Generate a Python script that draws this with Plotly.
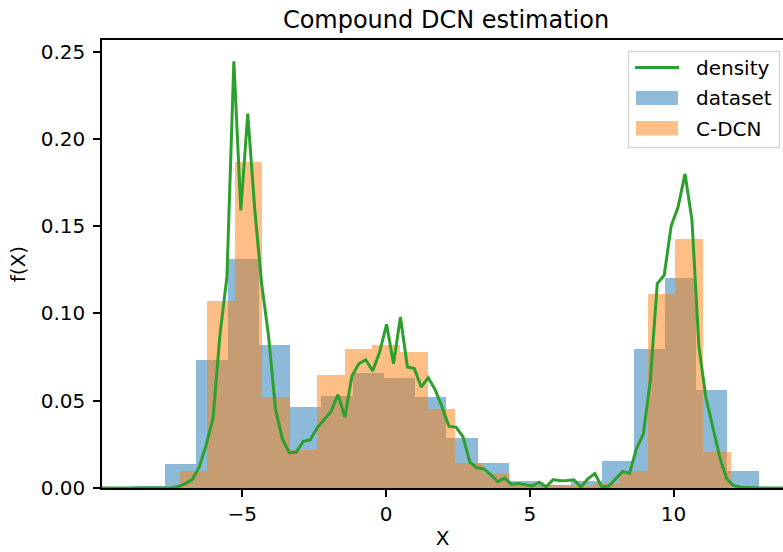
import numpy as np
import plotly.graph_objects as go

# ---- histogram of the raw dataset (20 equal bins, density-normalised) ----
dataset_lo, dataset_hi, dataset_nbins = -8.77, 12.96, 20
dataset_heights = [0.0014, 0.0135, 0.0735, 0.1315, 0.0817, 0.0467, 0.0530, 0.0659,
                   0.0632, 0.0521, 0.0286, 0.0145, 0.0040, 0.0020, 0.0043, 0.0152,
                   0.0799, 0.1204, 0.0560, 0.0097]

# ---- histogram of C-DCN samples (20 equal bins, density-normalised) ----
cdcn_lo, cdcn_hi, cdcn_nbins = -7.183, 11.983, 20
cdcn_heights = [0.0100, 0.1070, 0.1869, 0.0521, 0.0219, 0.0645, 0.0799, 0.0821,
                0.0779, 0.0454, 0.0142, 0.0080, 0.0012, 0.0020, 0.0010, 0.0028,
                0.0100, 0.1114, 0.1428, 0.0206]

# ---- estimated density evaluated on a 100-point grid ----
grid_lo, grid_hi, grid_n = -9.88, 14.02, 100
density_values = [
    0, 0, 0, 0, 0, 0, 0, 0, 0, 0,
    0.0002, 0.0008, 0.0025, 0.0048, 0.0119, 0.0244, 0.0400, 0.0880, 0.1210, 0.2445,
    0.1590, 0.2145, 0.1600, 0.1170, 0.0870, 0.0450, 0.0280, 0.0202, 0.0206, 0.0267,
    0.0275, 0.0345, 0.0390, 0.0438, 0.0535, 0.0406, 0.0640, 0.0712, 0.0735, 0.0670,
    0.0779, 0.0938, 0.0712, 0.0980, 0.0693, 0.0684, 0.0578, 0.0632, 0.0563, 0.0464,
    0.0353, 0.0349, 0.0295, 0.0148, 0.0116, 0.0110, 0.0077, 0.0036, 0.0057, 0.0020,
    0.0026, 0.0020, 0.0012, 0.0033, 0.0007, 0.0048, 0.0041, 0.0043, 0.0047, 0.0005,
    0.0053, 0.0083, 0.0007, 0.0010, 0.0052, 0.0095, 0.0084, 0.0225, 0.0310, 0.0617,
    0.1171, 0.1219, 0.1500, 0.1610, 0.1800, 0.1535, 0.0810, 0.0520, 0.0350, 0.0177,
    0.0053, 0.0014, 0.0005, 0.0002, 0, 0, 0, 0, 0, 0,
]

x_tick_values = [-5, 0, 5, 10]
x_tick_labels = ["\u22125", "0", "5", "10"]
y_tick_values = [0.00, 0.05, 0.10, 0.15, 0.20, 0.25]

BLUE = "#1f77b4"
ORANGE = "#ff7f0e"
GREEN = "#2ca02c"
FONT = "DejaVu Sans"
FS = 20


def bar_geometry(lo, hi, n):
    edges = np.linspace(lo, hi, n + 1)
    return (edges[:-1] + edges[1:]) / 2, np.diff(edges)


ds_centers, ds_widths = bar_geometry(dataset_lo, dataset_hi, dataset_nbins)
cd_centers, cd_widths = bar_geometry(cdcn_lo, cdcn_hi, cdcn_nbins)
grid_x = np.linspace(grid_lo, grid_hi, grid_n)

fig = go.Figure()
fig.add_trace(go.Bar(x=ds_centers, y=dataset_heights, width=ds_widths,
                     marker=dict(color=BLUE, line=dict(width=0)), opacity=0.5,
                     name="dataset", showlegend=False))
fig.add_trace(go.Bar(x=cd_centers, y=cdcn_heights, width=cd_widths,
                     marker=dict(color=ORANGE, line=dict(width=0)), opacity=0.5,
                     name="C-DCN", showlegend=False))
fig.add_trace(go.Scatter(x=grid_x, y=density_values, mode="lines",
                         line=dict(color=GREEN, width=3),
                         name="density", showlegend=False))

W, H = 783, 552
ML, MR, MT, MB = 102, 0, 40, 64
pw, ph = W - ML - MR, H - MT - MB
X_PER_PX = 1 / 28.75  # horizontal data units per pixel


def px(xp):
    return (xp - ML) / pw


def py(yp):
    return (H - MB - yp) / ph


# legend drawn as a framed box in the upper right corner
shapes = [
    dict(type="rect", xref="paper", yref="paper", layer="above",
         x0=px(628.5), x1=px(779.5), y0=py(147.5), y1=py(51.5),
         line=dict(color="#d6d6d6", width=1.3), fillcolor="rgba(255,255,255,0.8)"),
    dict(type="line", xref="paper", yref="paper", layer="above",
         x0=px(635), x1=px(679), y0=py(67.5), y1=py(67.5),
         line=dict(color=GREEN, width=3)),
    dict(type="rect", xref="paper", yref="paper", layer="above",
         x0=px(636), x1=px(678), y0=py(105), y1=py(91),
         line=dict(width=0), fillcolor="rgba(31,119,180,0.5)"),
    dict(type="rect", xref="paper", yref="paper", layer="above",
         x0=px(636), x1=px(678), y0=py(135.5), y1=py(121),
         line=dict(width=0), fillcolor="rgba(255,127,14,0.5)"),
]
annotations = [
    dict(text=t, xref="paper", yref="paper", x=px(694), y=py(yc),
         xanchor="left", yanchor="middle", showarrow=False,
         font=dict(family=FONT, size=FS, color="black"))
    for t, yc in [("density", 67.5), ("dataset", 98), ("C-DCN", 128.5)]
]

fig.update_layout(
    width=W, height=H,
    margin=dict(l=ML, r=MR, t=MT, b=MB, pad=0),
    paper_bgcolor="white", plot_bgcolor="white",
    barmode="overlay", bargap=0,
    font=dict(family=FONT, size=FS, color="black"),
    title=dict(text="Compound DCN estimation", xref="paper", x=px(446),
               xanchor="center", yref="container", y=1 - 20 / H, yanchor="middle",
               font=dict(family=FONT, size=24, color="black")),
    shapes=shapes, annotations=annotations,
    showlegend=False,
)
fig.update_xaxes(
    range=[grid_lo, grid_lo + (W - ML) * X_PER_PX],
    tickvals=x_tick_values, ticktext=x_tick_labels,
    ticks="outside", ticklen=7, tickwidth=1.5, tickcolor="black",
    showline=True, linecolor="black", linewidth=1.5, mirror=True,
    showgrid=False, zeroline=False,
    title=dict(text="X", standoff=6, font=dict(family=FONT, size=FS)),
)
fig.update_yaxes(
    range=[0, 0.2567],
    tickvals=y_tick_values, tickformat=".2f",
    ticks="outside", ticklen=7, tickwidth=1.5, tickcolor="black",
    ticklabelstandoff=4,
    showline=True, linecolor="black", linewidth=1.5,
    showgrid=False, zeroline=False,
    title=dict(text="f(X)", standoff=10, font=dict(family=FONT, size=FS)),
)

fig.write_html("out.html")
